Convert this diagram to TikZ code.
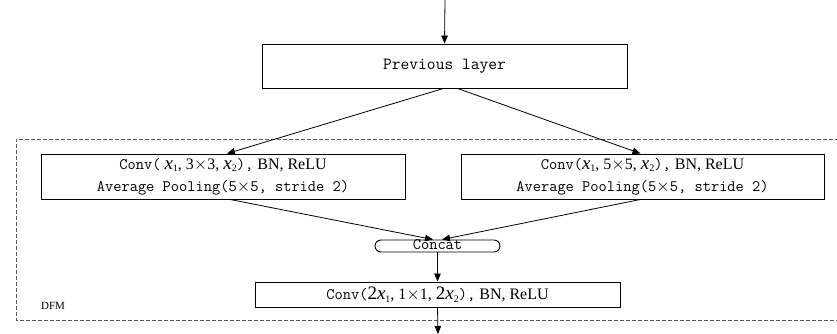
\documentclass[tikz,border=0pt]{standalone}
\usepackage{fontspec}
\setmainfont{Liberation Serif}
\usetikzlibrary{arrows.meta,shapes.misc}

% italic variable with a lowered index
\newcommand\xsub[2][19]{{\fontsize{#1}{#1}\selectfont\itshape x}\raisebox{-2.5pt}{\fontsize{10}{10}\selectfont #2}}
% monospaced run of text
\newcommand\mtext[1]{{\ttfamily #1}}

\tikzset{
  box/.style={draw, line width=0.9pt, inner sep=0pt, align=center},
  link/.style={line width=0.8pt, -{Triangle[length=8pt,width=6.5pt]}},
  region/.style={draw=black!65, dashed, line width=0.9pt, dash pattern=on 4pt off 2pt},
  textfont/.style={font=\fontsize{16}{21}\selectfont}
}

\begin{document}
\begin{tikzpicture}[x=1pt,y=-1pt]
  \useasboundingbox (0,0) rectangle (837,334);

  % dashed frame of the DFM block
  \draw[region] (845,139) -- (16,139) -- (16,320) -- (845,320);
  \node[font=\fontsize{11}{11}\selectfont] (dfm) at (53,306) {DFM};

  \node[box, minimum width=365, minimum height=44,
        font=\fontsize{17}{20}\selectfont\ttfamily] (prev) at (444.5,66) {Previous layer};

  \node[box, textfont, minimum width=364, minimum height=45] (left) at (223,176.5)
    {\mtext{Conv(} \xsub{1}, 3$\times$3, \xsub{2}\mtext{),} BN, ReLU\\[1pt]
     \mtext{Average Pooling(5}$\times$\mtext{5, stride 2)}};

  \node[box, textfont, minimum width=363, minimum height=45] (right) at (642.5,176.5)
    {\mtext{Conv(}\xsub{1}, 5$\times$5, \xsub{2}\mtext{),} BN, ReLU\\[1pt]
     \mtext{Average Pooling(5}$\times$\mtext{5, stride 2)}};

  \node[draw, line width=0.9pt, rounded rectangle, minimum width=125, minimum height=12,
        inner sep=0pt] (concat) at (437.5,246) {};
  \node[textfont, inner sep=0pt] (concatlabel) at (437.5,244.5) {\mtext{Concat}};

  \node[box, textfont, minimum width=365, minimum height=25] (fuse) at (437.5,294.5)
    {\mtext{Conv(}{\fontsize{19}{19}\selectfont 2}\xsub{1}, 1$\times$1, {\fontsize{19}{19}\selectfont 2}\xsub{2}\mtext{),} BN, ReLU};

  \coordinate (in) at (445,0);
  \coordinate (out) at (438,334);

  \draw[link] (in) -- (prev.north);
  \draw[link] ([xshift=-1]prev.south) -- ([xshift=4]left.north);
  \draw[link] ([xshift=13]prev.south) -- ([xshift=-2]right.north);
  \draw[link] ([xshift=7]left.south) -- ([xshift=-4.5]concat.north);
  \draw[link] ([xshift=-2]right.south) -- ([xshift=4.5]concat.north);
  \draw[link] (concat.south) -- (fuse.north);
  \draw[link] (fuse.south) -- (out);
\end{tikzpicture}
\end{document}
